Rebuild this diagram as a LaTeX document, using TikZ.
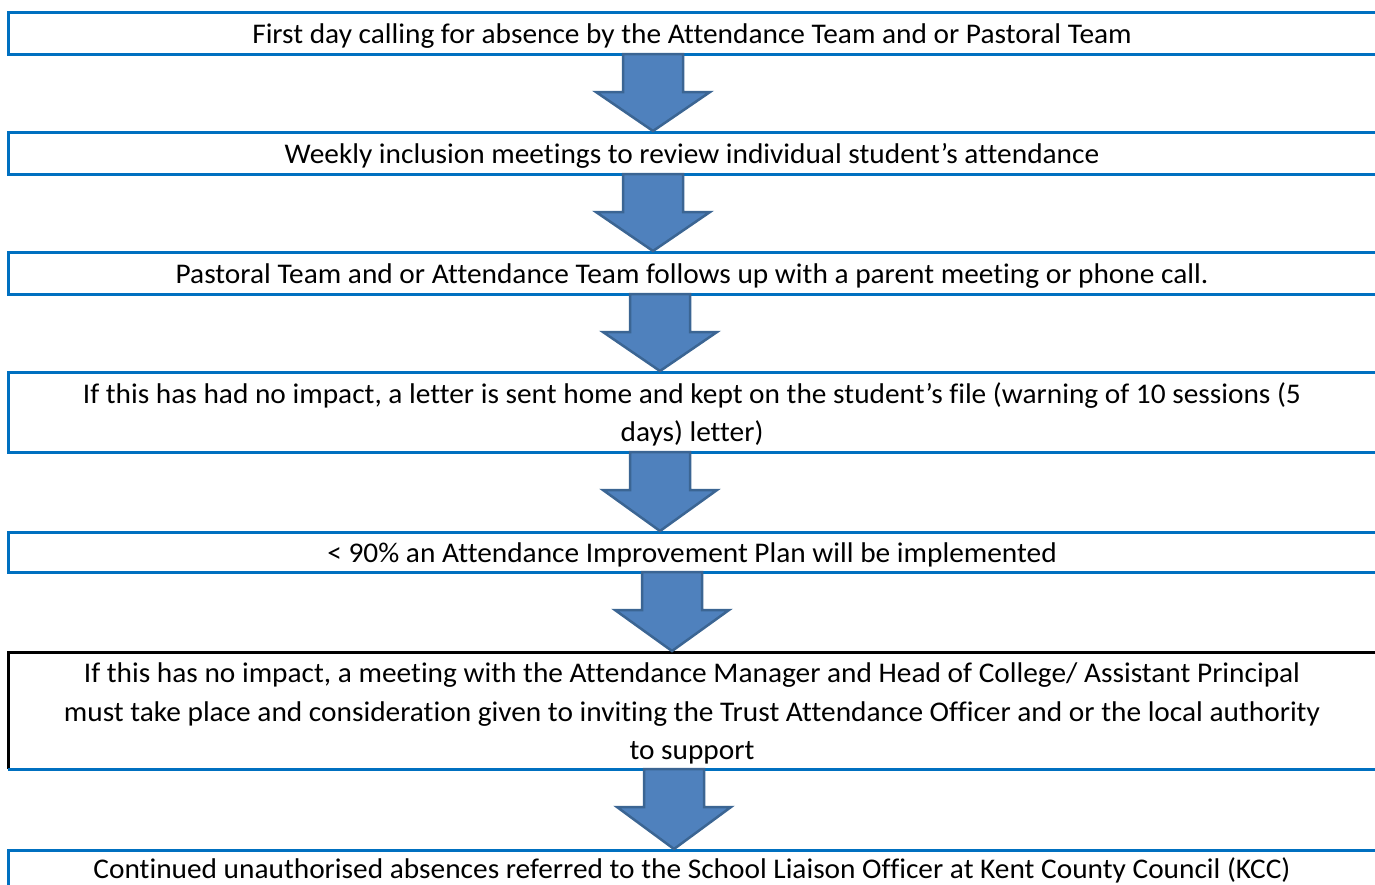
\documentclass[tikz,border=0pt]{standalone}
\usepackage{fontspec}
\setmainfont{Carlito}[Ligatures={NoCommon}, FakeStretch=1.03]
\usetikzlibrary{calc}
\definecolor{boxblue}{HTML}{0070C0}
\definecolor{arrfill}{HTML}{4F81BD}
\definecolor{arrdraw}{HTML}{3B6593}
\tikzset{
  box/.style={draw=boxblue, line width=3pt, minimum width=1368pt, outer sep=0pt, inner sep=0pt},
  txt/.style={anchor=base, inner sep=0pt, font=\fontsize{28.5}{38.5}\selectfont},
  arr/.style={fill=arrfill, draw=arrdraw, line width=2.5pt, line join=miter}
}
\newcommand\flowarrow[3]{%
  \draw[arr] let \p1=(#2.south), \p2=(#3.north) in
    ({#1pt-30pt},\y1) -- ({#1pt-30pt},\y1-38pt) -- ({#1pt-57pt},\y1-38pt) --
    ({#1pt},\y2+1pt) -- ({#1pt+57pt},\y1-38pt) -- ({#1pt+30pt},\y1-38pt) --
    ({#1pt+30pt},\y1) -- cycle;}
\begin{document}
\begin{tikzpicture}[x=1pt,y=-1pt]
\useasboundingbox (0,0) rectangle (1375,884);
\clip (0,0) rectangle (1375,884);
% boxes
\node[box, minimum height=42pt] (b1) at (692,33) {};
\node[box, minimum height=42pt] (b2) at (692,153) {};
\node[box, minimum height=42pt] (b3) at (692,273) {};
\node[box, minimum height=80pt] (b4) at (692,412) {};
\node[box, minimum height=40pt] (b5) at (692,552) {};
\node[box, draw=none, minimum height=117pt] (b6) at (692,710.5) {};
\draw[black, line width=3pt] (b6.south west) |- (b6.north east);
\draw[boxblue, line width=3pt] (b6.south west) -- (b6.south east);
\node[box, minimum height=50pt] (b7) at (692,875) {};
% texts
\node[txt] (t1) at (692,43) {First day calling for absence by the Attendance Team and or Pastoral Team};
\node[txt] (t2) at (692,163) {Weekly inclusion meetings to review individual student’s attendance};
\node[txt] (t3) at (692,283) {Pastoral Team and or Attendance Team follows up with a parent meeting or phone call.};
\node[txt] (t4a) at (692,403) {If this has had no impact, a letter is sent home and kept on the student’s file (warning of 10 sessions (5};
\node[txt] (t4b) at (692,441) {days) letter)};
\node[txt] (t5) at (692,562) {< 90\% an Attendance Improvement Plan will be implemented};
\node[txt] (t6a) at (692,682) {If this has no impact, a meeting with the Attendance Manager and Head of College/ Assistant Principal};
\node[txt] (t6b) at (692,721) {must take place and consideration given to inviting the Trust Attendance Officer and or the local authority};
\node[txt] (t6c) at (692,759) {to support};
\node[txt] (t7) at (692,878) {Continued unauthorised absences referred to the School Liaison Officer at Kent County Council (KCC)};
% arrows
\flowarrow{653}{b1}{b2}
\flowarrow{653}{b2}{b3}
\flowarrow{660}{b3}{b4}
\flowarrow{660}{b4}{b5}
\flowarrow{672}{b5}{b6}
\flowarrow{674}{b6}{b7}
\end{tikzpicture}
\end{document}
